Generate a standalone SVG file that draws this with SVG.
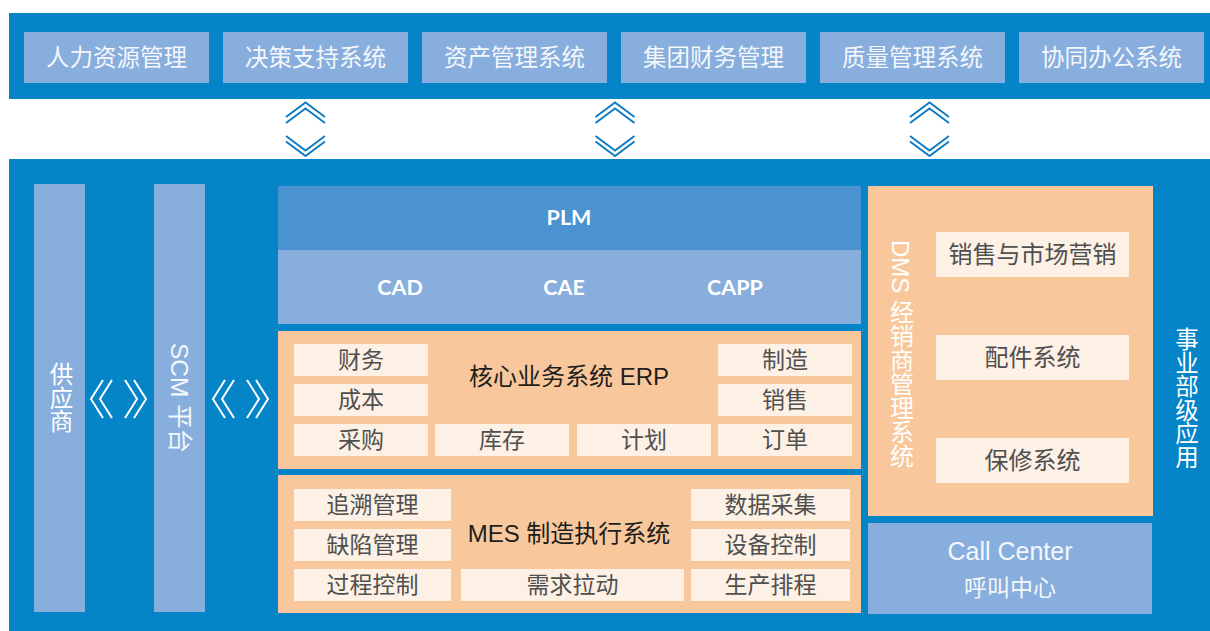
<svg xmlns="http://www.w3.org/2000/svg" width="1210" height="631" viewBox="0 0 1210 631">
<defs>
<style>
text{font-family:"Liberation Sans","Noto Sans CJK SC",sans-serif;}
.band{fill:#0584c8;}
.lb{fill:#87aedc;}
.plm{fill:#4a92d0;}
.org{fill:#f8c89c;}
.cr{fill:#fdf0e5;}
.tw{fill:#f4f7fc;font-size:23.5px;text-anchor:middle;dominant-baseline:central;}
.tg{fill:#4f4f4f;font-size:23px;text-anchor:middle;dominant-baseline:central;}
.tt{fill:#1e1e1e;font-size:24px;text-anchor:middle;dominant-baseline:central;}
.tb{fill:#ffffff;font-family:Lato,"Open Sans",sans-serif;font-weight:bold;font-size:21.5px;text-anchor:middle;dominant-baseline:central;}
.vt{fill:#ffffff;font-size:23.5px;text-anchor:middle;writing-mode:vertical-rl;}
.chev{fill:none;stroke:#0f7cc4;stroke-width:2;}
.brk{fill:none;stroke:#ffffff;stroke-width:2;}
</style>
</defs>
<rect class="band" x="9" y="13" width="1201" height="86"/>
<rect class="band" x="9" y="159" width="1201" height="472"/>

<g id="top-systems">
<g id="hr"><rect class="lb" x="24" y="32" width="185" height="51"/><text class="tw" x="116.5" y="57.5">人力资源管理</text></g>
<g id="dss"><rect class="lb" x="223" y="32" width="185" height="51"/><text class="tw" x="315.5" y="57.5">决策支持系统</text></g>
<g id="asset"><rect class="lb" x="422" y="32" width="185" height="51"/><text class="tw" x="514.5" y="57.5">资产管理系统</text></g>
<g id="finance"><rect class="lb" x="621" y="32" width="185" height="51"/><text class="tw" x="713.5" y="57.5">集团财务管理</text></g>
<g id="quality"><rect class="lb" x="820" y="32" width="185" height="51"/><text class="tw" x="912.5" y="57.5">质量管理系统</text></g>
<g id="oa"><rect class="lb" x="1019" y="32" width="185" height="51"/><text class="tw" x="1111.5" y="57.5">协同办公系统</text></g>
</g>

<g id="connectors">
<g transform="translate(305.5,0)">
<polyline class="chev" points="-19.5,117 0,102.5 19.5,117"/><polyline class="chev" points="-19.5,123 0,108.5 19.5,123"/>
<polyline class="chev" points="-19.5,136 0,150.5 19.5,136"/><polyline class="chev" points="-19.5,141.5 0,156 19.5,141.5"/>
</g>
<g transform="translate(615,0)">
<polyline class="chev" points="-19.5,117 0,102.5 19.5,117"/><polyline class="chev" points="-19.5,123 0,108.5 19.5,123"/>
<polyline class="chev" points="-19.5,136 0,150.5 19.5,136"/><polyline class="chev" points="-19.5,141.5 0,156 19.5,141.5"/>
</g>
<g transform="translate(929.5,0)">
<polyline class="chev" points="-19.5,117 0,102.5 19.5,117"/><polyline class="chev" points="-19.5,123 0,108.5 19.5,123"/>
<polyline class="chev" points="-19.5,136 0,150.5 19.5,136"/><polyline class="chev" points="-19.5,141.5 0,156 19.5,141.5"/>
</g>
<g>
<polyline class="brk" points="103,380 91,399 103,418"/><polyline class="brk" points="112,380 100,399 112,418"/>
<polyline class="brk" points="125,380 137,399 125,418"/><polyline class="brk" points="134,380 146,399 134,418"/>
</g>
<g transform="translate(122,0)">
<polyline class="brk" points="103,380 91,399 103,418"/><polyline class="brk" points="112,380 100,399 112,418"/>
<polyline class="brk" points="125,380 137,399 125,418"/><polyline class="brk" points="134,380 146,399 134,418"/>
</g>
</g>

<g id="supplier"><rect class="lb" x="34" y="184" width="51" height="428"/><text class="vt" x="59.5" y="398">供应商</text></g>
<g id="scm"><rect class="lb" x="154" y="184" width="51" height="428"/><text class="tw" style="font-size:24.5px" transform="translate(179.5,398) rotate(90)" x="0" y="0">SCM 平台</text></g>

<g id="plm">
<rect class="plm" x="278" y="186" width="583" height="64"/>
<rect class="lb" x="278" y="250" width="583" height="74"/>
<text class="tb" x="569" y="217">PLM</text>
<text class="tb" x="400" y="287">CAD</text>
<text class="tb" x="564" y="287">CAE</text>
<text class="tb" x="735" y="287">CAPP</text>
</g>

<g id="erp">
<rect class="org" x="278" y="331" width="583" height="138"/>
<text class="tt" x="569" y="376">核心业务系统 ERP</text>
<rect class="cr" x="294" y="344" width="134" height="32"/><text class="tg" x="361" y="360">财务</text>
<rect class="cr" x="294" y="384" width="134" height="32"/><text class="tg" x="361" y="400">成本</text>
<rect class="cr" x="294" y="424" width="134" height="32"/><text class="tg" x="361" y="440">采购</text>
<rect class="cr" x="435" y="424" width="134" height="32"/><text class="tg" x="502" y="440">库存</text>
<rect class="cr" x="577" y="424" width="134" height="32"/><text class="tg" x="644" y="440">计划</text>
<rect class="cr" x="718" y="344" width="134" height="32"/><text class="tg" x="785" y="360">制造</text>
<rect class="cr" x="718" y="384" width="134" height="32"/><text class="tg" x="785" y="400">销售</text>
<rect class="cr" x="718" y="424" width="134" height="32"/><text class="tg" x="785" y="440">订单</text>
</g>

<g id="mes">
<rect class="org" x="278" y="475" width="583" height="138"/>
<text class="tt" x="569" y="533">MES 制造执行系统</text>
<rect class="cr" x="294" y="489" width="157" height="32"/><text class="tg" x="372.5" y="505">追溯管理</text>
<rect class="cr" x="294" y="529" width="157" height="32"/><text class="tg" x="372.5" y="545">缺陷管理</text>
<rect class="cr" x="294" y="569" width="157" height="32"/><text class="tg" x="372.5" y="585">过程控制</text>
<rect class="cr" x="461" y="569" width="223" height="32"/><text class="tg" x="572.5" y="585">需求拉动</text>
<rect class="cr" x="691" y="489" width="159" height="32"/><text class="tg" x="770.5" y="505">数据采集</text>
<rect class="cr" x="691" y="529" width="159" height="32"/><text class="tg" x="770.5" y="545">设备控制</text>
<rect class="cr" x="691" y="569" width="159" height="32"/><text class="tg" x="770.5" y="585">生产排程</text>
</g>

<g id="dms">
<rect class="org" x="868" y="186" width="285" height="330"/>
<text class="vt" style="font-size:24px" x="900" y="354">DMS 经销商管理系统</text>
<rect class="cr" x="936" y="232" width="193" height="45"/><text class="tg" style="font-size:24px" x="1032.5" y="254.5">销售与市场营销</text>
<rect class="cr" x="936" y="335" width="193" height="45"/><text class="tg" style="font-size:24px" x="1032.5" y="357.5">配件系统</text>
<rect class="cr" x="936" y="438" width="193" height="45"/><text class="tg" style="font-size:24px" x="1032.5" y="460.5">保修系统</text>
</g>

<g id="callcenter">
<rect class="lb" x="868" y="523" width="284" height="91"/>
<text class="tw" style="font-size:25px" x="1010" y="551">Call Center</text>
<text class="tw" style="font-size:23px" x="1010" y="588">呼叫中心</text>
</g>

<g id="bu-apps"><text class="vt" x="1185" y="398">事业部级应用</text></g>
</svg>
